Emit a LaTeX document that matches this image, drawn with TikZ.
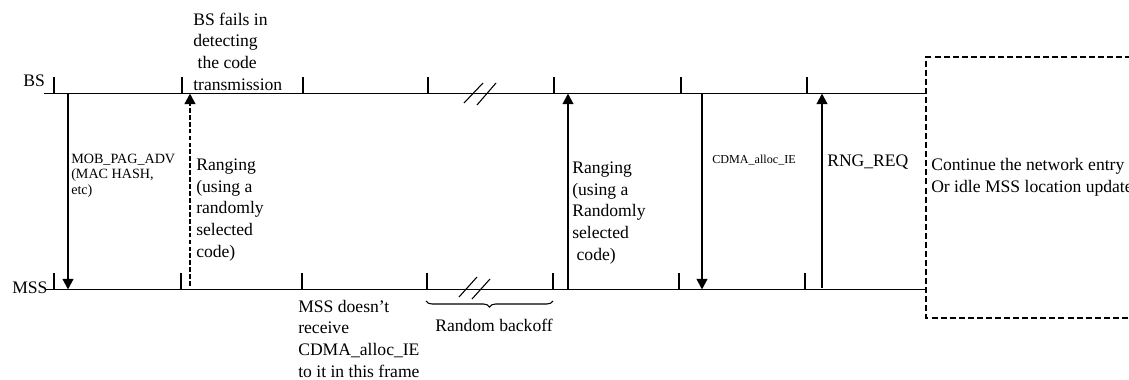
\documentclass[tikz,border=0pt]{standalone}
\usepackage{fontspec}
\setmainfont{Liberation Serif}
\usepackage{tikz}
\usetikzlibrary{arrows.meta,decorations.pathreplacing}

\begin{document}
\begin{tikzpicture}[x=0.75pt, y=-0.75pt,
    axe/.style={draw=black, line width=0.9pt},
    tick/.style={draw=black, line width=0.8pt},
    msg/.style={draw=black, line width=1.6pt, -{Triangle[width=8pt,length=8pt]}},
    lost/.style={msg, dash pattern=on 3.6pt off 1.6pt},
    txt/.style={anchor=base west, inner sep=0pt, align=left, font=\fontsize{13.2}{16.2}\selectfont},
    petit/.style={txt, font=\fontsize{10.6}{11.3}\selectfont}]
    \useasboundingbox (0, 0) rectangle (1129, 379);

    % axes BS et MSS
    \coordinate (bsG) at (44, 93.5);
    \coordinate (bsD) at (926, 93.5);
    \coordinate (msG) at (45, 289.5);
    \coordinate (msD) at (926, 289.5);
    \draw[axe] (bsG) -- (bsD);
    \draw[axe] (msG) -- (msD);
    \node[txt] (bs) at (23, 86) {BS};
    \node[txt] (ms) at (12, 293) {MSS};

    % trames
    \draw[tick] (54, 77) -- (54, 93.5);
    \draw[tick] (182, 77) -- (182, 93.5);
    \draw[tick] (303, 77) -- (303, 93.5);
    \draw[tick] (428, 77) -- (428, 93.5);
    \draw[tick] (554, 77) -- (554, 93.5);
    \draw[tick] (681, 77) -- (681, 93.5);
    \draw[tick] (807, 77) -- (807, 93.5);
    \draw[tick] (54, 273) -- (54, 289.5);
    \draw[tick] (181, 273) -- (181, 289.5);
    \draw[tick] (302, 273) -- (302, 289.5);
    \draw[tick] (427, 273) -- (427, 289.5);
    \draw[tick] (553, 273) -- (553, 289.5);
    \draw[tick] (679, 273) -- (679, 289.5);
    \draw[tick] (805, 273) -- (805, 289.5);

    % coupures
    \draw[tick] (464, 103) -- (483, 83);
    \draw[tick] (477, 105) -- (496, 83);
    \draw[tick] (459, 297) -- (477, 277);
    \draw[tick] (472, 299) -- (490, 279);

    % messages
    \coordinate (pagH) at (68, 93.5);
    \coordinate (pagB) at (68, 289.5);
    \coordinate (rg1B) at (190, 286);
    \coordinate (rg1H) at (190, 93.5);
    \coordinate (rg2B) at (568, 289.5);
    \coordinate (rg2H) at (568, 93.5);
    \coordinate (cdH) at (702, 93.5);
    \coordinate (cdB) at (702, 289.5);
    \coordinate (rqB) at (822, 288);
    \coordinate (rqH) at (822, 93.5);
    \draw[msg] (pagH) -- (pagB);
    \draw[lost] (rg1B) -- (rg1H);
    \draw[msg] (rg2B) -- (rg2H);
    \draw[msg] (cdH) -- (cdB);
    \draw[msg] (rqB) -- (rqH);

    % textes (base = derniere ligne)
    \node[txt] (echec) at (193, 90) {BS fails in\\detecting\\\hspace*{0.25em}the code\\transmission};
    \node[petit] (pag) at (71, 194) {MOB\_PAG\_ADV\\(MAC HASH,\\etc)};
    \node[txt] (rg1) at (196, 257) {Ranging\\(using a\\randomly\\selected\\code)};
    \node[txt] (rate) at (298, 377) {MSS doesn’t\\receive\\CDMA\_alloc\_IE\\to it in this frame};
    \node[txt] (rg2) at (572, 260) {Ranging\\(using a\\Randomly\\selected\\\hspace*{0.25em}code)};
    \node[petit, font=\fontsize{9.1}{11}\selectfont] (cd) at (712, 163) {CDMA\_alloc\_IE};
    \node[txt] (rq) at (827, 166) {RNG\_REQ};

    % backoff
    \coordinate (bkG) at (426, 301);
    \coordinate (bkD) at (553, 301);
    \draw[tick, decorate, decoration={brace, mirror, amplitude=4.5pt}] (bkG) -- (bkD);
    \node[txt] (bk) at (435, 331) {Random backoff};

    % suite
    \draw[line width=1.4pt, dash pattern=on 4.5pt off 2.3pt] (1140, 57) -- (926, 57) -- (926, 318) -- (1140, 318);
    \node[txt, font=\fontsize{13.2}{16.5}\selectfont] (suite) at (931, 192) {Continue the network entry\\Or idle MSS location update};

  \end{tikzpicture}
\end{document}
